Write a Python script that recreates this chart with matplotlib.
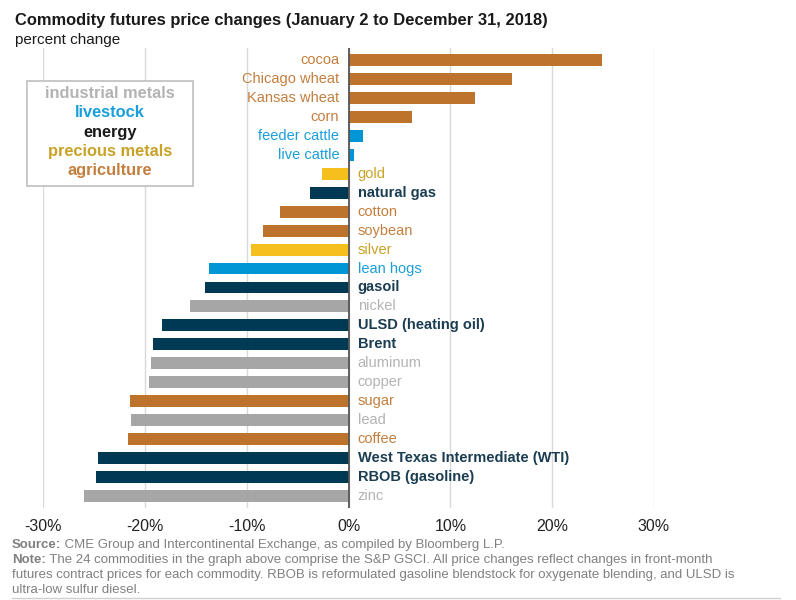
import matplotlib
matplotlib.use("Agg")
import matplotlib.pyplot as plt
from matplotlib.patches import Rectangle

plt.rcParams['font.family'] = ['Liberation Sans', 'DejaVu Sans']

# commodities, top to bottom
names = ['cocoa', 'Chicago wheat', 'Kansas wheat', 'corn', 'feeder cattle', 'live cattle',
         'gold', 'natural gas', 'cotton', 'soybean', 'silver', 'lean hogs', 'gasoil', 'nickel',
         'ULSD (heating oil)', 'Brent', 'aluminum', 'copper', 'sugar', 'lead', 'coffee',
         'West Texas Intermediate (WTI)', 'RBOB (gasoline)', 'zinc']
changes = [24.9, 16.1, 12.4, 6.2, 1.4, 0.5,
           -2.6, -3.8, -6.7, -8.4, -9.6, -13.7, -14.1, -15.6,
           -18.3, -19.2, -19.4, -19.6, -21.5, -21.4, -21.7,
           -24.6, -24.8, -26.0]
groups = ['ag', 'ag', 'ag', 'ag', 'live', 'live',
          'prec', 'energy', 'ag', 'ag', 'prec', 'live', 'energy', 'ind',
          'energy', 'energy', 'ind', 'ind', 'ag', 'ind', 'ag',
          'energy', 'energy', 'ind']
ticks = [-30, -20, -10, 0, 10, 20, 30]

bar_col = {'ag': '#bd732b', 'live': '#0096d6', 'energy': '#003953',
           'prec': '#f5c01e', 'ind': '#a6a6a6'}
txt_col = {'ag': '#c47f3e', 'live': '#1a9fdb', 'energy': '#1b3d52',
           'prec': '#c9a227', 'ind': '#b3b3b3'}

fig = plt.figure(figsize=(7.96, 6.0), dpi=100)
ax = fig.add_axes([43 / 796, 1 - 508 / 600, 611 / 796, 460 / 600])

y = list(range(len(names)))
ax.barh(y, changes, height=0.63, color=[bar_col[g] for g in groups], zorder=2)

for yi, name, v, g in zip(y, names, changes, groups):
    w = 'bold' if g == 'energy' else 'normal'
    if v >= 0:
        ax.text(-0.9, yi, name, ha='right', va='center', fontsize=10.5,
                color=txt_col[g], fontweight=w, zorder=3)
    else:
        ax.text(0.9, yi, name, ha='left', va='center', fontsize=10.5,
                color=txt_col[g], fontweight=w, zorder=3)

ax.set_xlim(-30, 30)
ax.set_ylim(len(names) - 1 + 0.63, -0.63)
ax.set_xticks(ticks)
ax.set_xticklabels([f'{t}%' for t in ticks], fontsize=11.5, color='#222222')
ax.set_yticks([])
ax.tick_params(axis='x', length=0, pad=8)
ax.grid(axis='x', color='#d9d9d9', linewidth=1, zorder=0)
for s in ax.spines.values():
    s.set_visible(False)
ax.axvline(0, color='#555555', linewidth=1.3, zorder=4)

# legend box
fig.patches.append(Rectangle((27 / 796, 1 - 186 / 600), 166 / 796, 105 / 600,
                             transform=fig.transFigure, facecolor='white',
                             edgecolor='#bfbfbf', linewidth=1.2, zorder=5))
leg = [('industrial metals', '#b3b3b3'), ('livestock', '#1a9fdb'), ('energy', '#1a1a1a'),
       ('precious metals', '#c9a227'), ('agriculture', '#c47f3e')]
for i, (t, c) in enumerate(leg):
    fig.text(110 / 796, 1 - (93 + i * 19.5) / 600, t, ha='center', va='center',
             fontsize=11.8, fontweight='bold', color=c, zorder=6)

# titles
fig.text(15 / 796, 1 - 20 / 600, 'Commodity futures price changes (January 2 to December 31, 2018)',
         fontsize=11.9, fontweight='bold', color='#1a1a1a', va='center')
fig.text(15 / 796, 1 - 40 / 600, 'percent change', fontsize=11, color='#1a1a1a', va='center')

# footer
fig.canvas.draw()
rend = fig.canvas.get_renderer()
foot = [('Source:', ' CME Group and Intercontinental Exchange, as compiled by Bloomberg L.P.', 545),
        ('Note:', ' The 24 commodities in the graph above comprise the S&P GSCI. All price changes reflect changes in front-month', 560),
        ('', 'futures contract prices for each commodity. RBOB is reformulated gasoline blendstock for oxygenate blending, and ULSD is', 575),
        ('', 'ultra-low sulfur diesel.', 590)]
for b, rest, yy in foot:
    x0 = 12 / 796
    if b:
        tb = fig.text(x0, 1 - yy / 600, b, fontsize=9.5, fontweight='bold', color='#808080', va='center')
        x0 += tb.get_window_extent(rend).width / fig.bbox.width
    fig.text(x0, 1 - yy / 600, rest, fontsize=9.5, color='#808080', va='center')
fig.add_artist(plt.Line2D([12 / 796, 780 / 796], [1 - 598 / 600, 1 - 598 / 600],
                          color='#d0d0d0', linewidth=1))

fig.savefig('out.png', dpi=100)
